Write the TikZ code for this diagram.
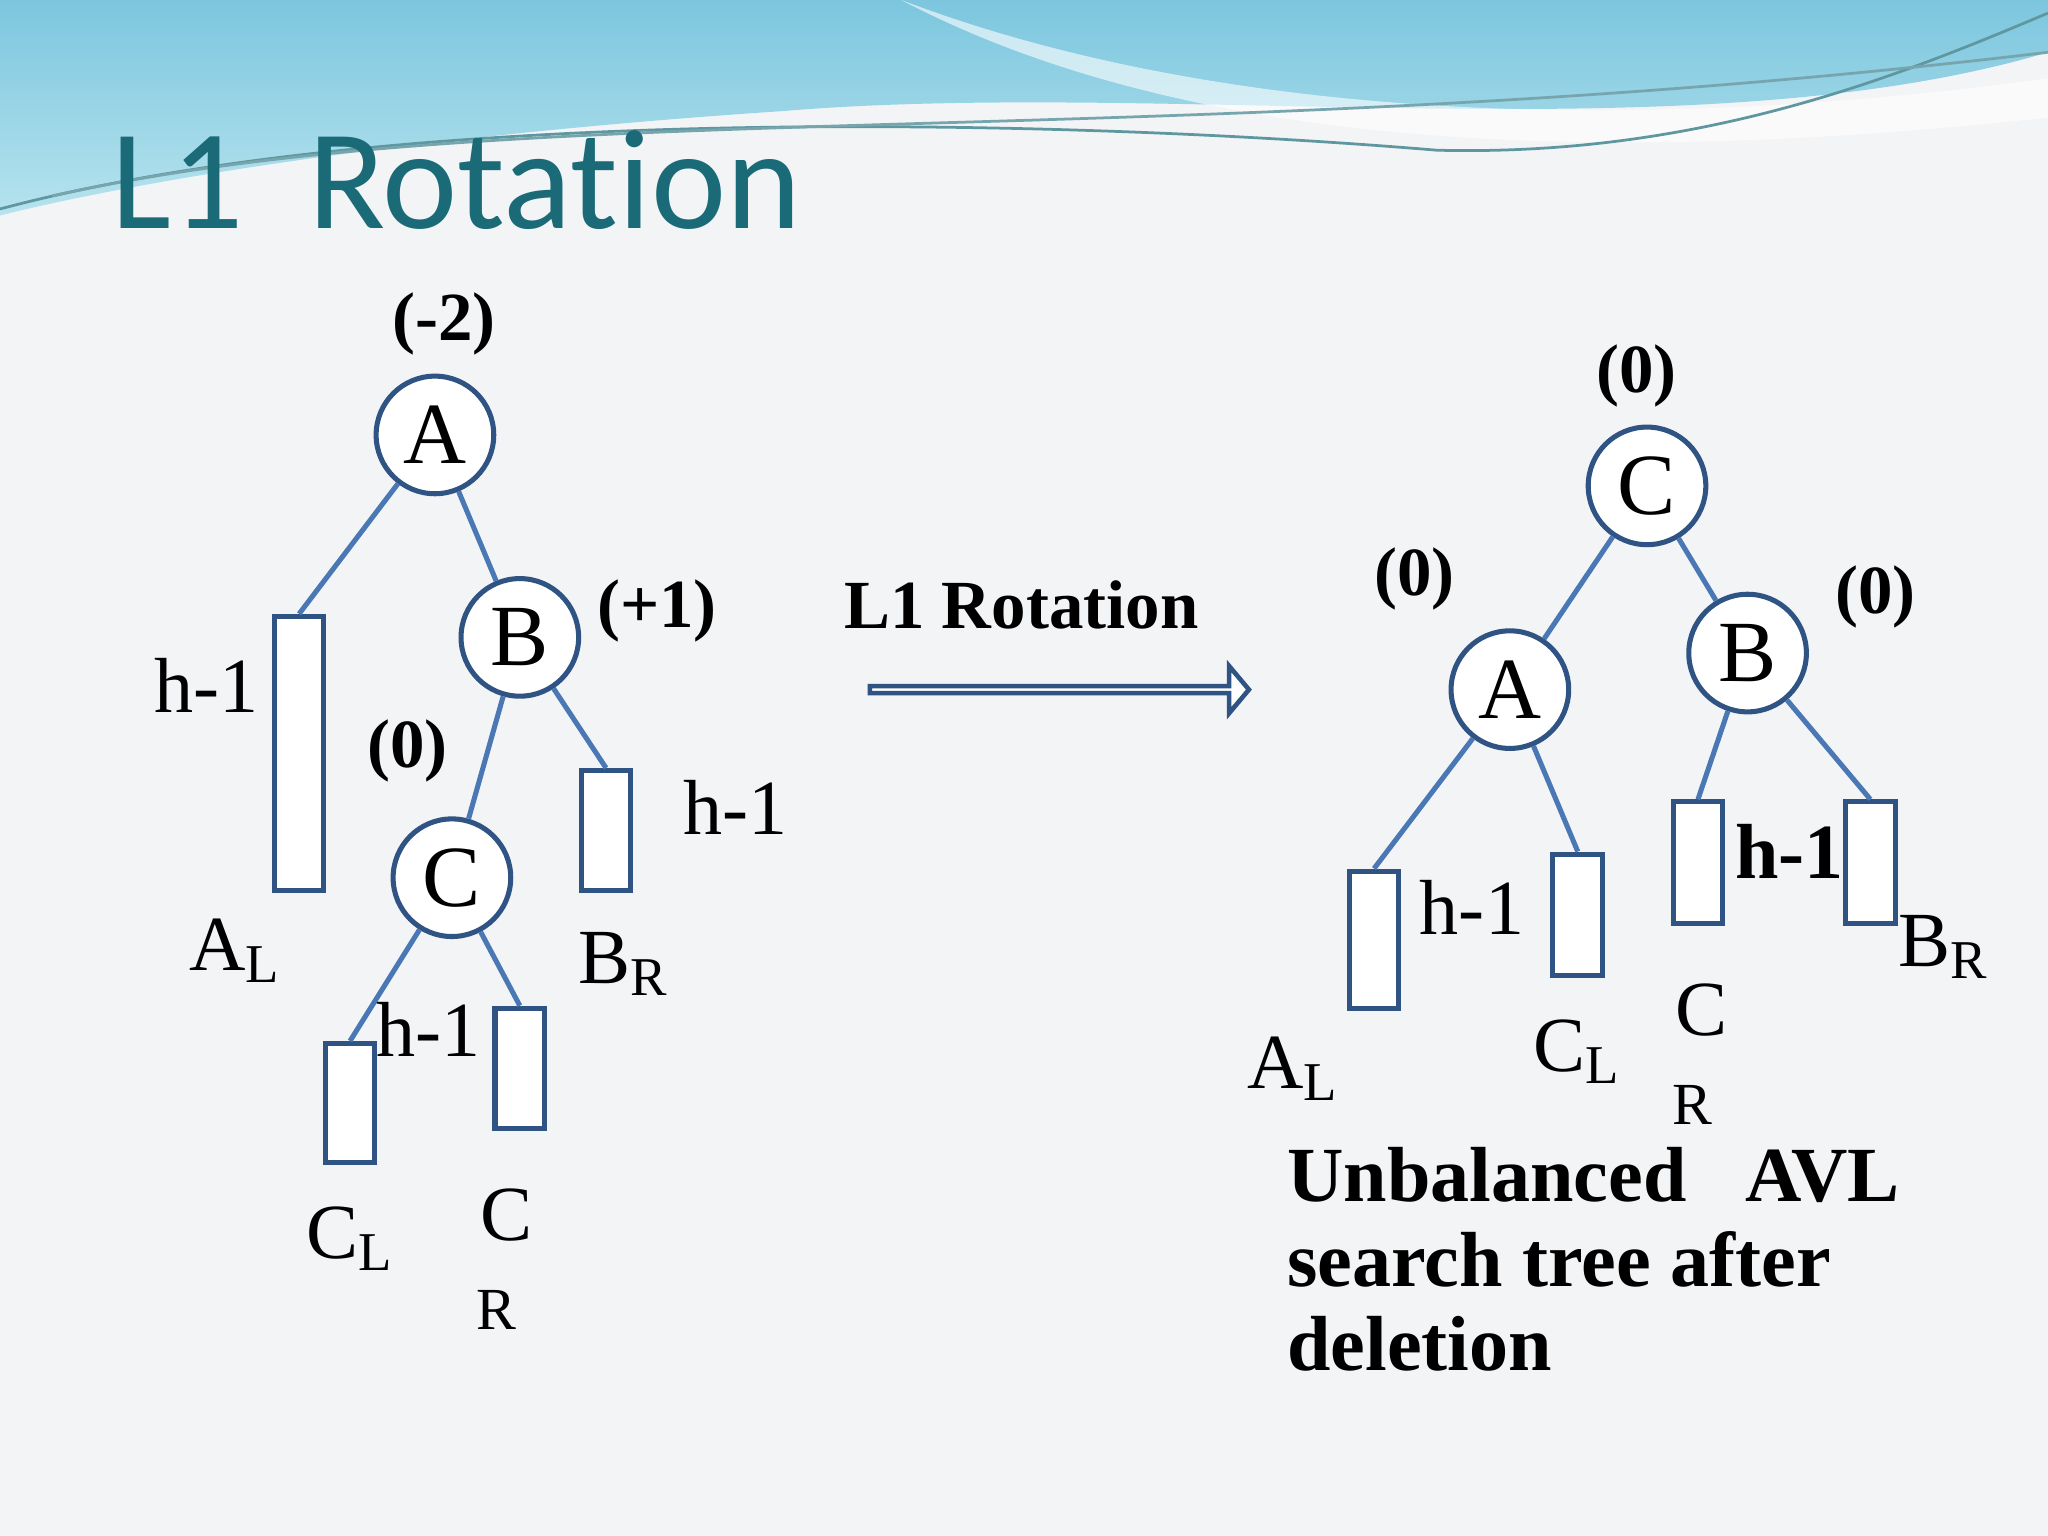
\documentclass[tikz,border=0pt]{standalone}
\usepackage{fontspec}
\setmainfont{Liberation Serif}
\newfontfamily\titlefont[Ligatures={NoCommon}]{Carlito}
\usetikzlibrary{shapes.arrows}
\definecolor{bg}{HTML}{F3F4F6}
\definecolor{nodeblue}{HTML}{2F5484}
\definecolor{linkblue}{HTML}{4A78B4}
\definecolor{titlecol}{HTML}{1A6A78}
\definecolor{wave1}{HTML}{7CC6DE}
\definecolor{wave2}{HTML}{B6E3EE}
\tikzset{
  tnode/.style={circle,draw=nodeblue,line width=1.1pt,fill=white,minimum size=0.9cm,inner sep=0pt,font=\fontsize{19}{19}\selectfont},
  sub/.style={draw=nodeblue,line width=1.1pt,fill=white,minimum width=0.38cm,anchor=north,inner sep=0pt},
  link/.style={draw=linkblue,line width=1.1pt},
  lbl/.style={font=\fontsize{17}{17}\selectfont,inner sep=0pt},
  bal/.style={font=\bfseries\fontsize{15}{15}\selectfont,inner sep=0pt},
}
\begin{document}
\begin{tikzpicture}[x=0.01cm,y=-0.01cm]
\fill[bg] (0,0) rectangle (1568,1176);
\useasboundingbox (0,0) rectangle (1568,1176);
% top waves
\shade[top color=wave1,bottom color=wave2] (0,0)--(1568,0)--(1568,40) .. controls (1300,120) and (900,60) .. (600,85) .. controls (300,105) and (100,140) .. (0,165)--cycle;
\fill[white,opacity=0.6] (690,0) .. controls (900,80) and (1200,110) .. (1568,60) -- (1568,90) .. controls (1200,130) and (900,110) .. (690,0);
\draw[titlecol!70,line width=0.6pt] (0,160) .. controls (300,80) and (800,90) .. (1100,115) .. controls (1300,120) and (1450,60) .. (1568,10);
\draw[titlecol!60,line width=0.6pt] (40,150) .. controls (400,70) and (900,120) .. (1568,40);
\node[anchor=base west,text=titlecol,font=\titlefont\fontsize{31}{31}\selectfont,inner sep=0pt] (title) at (85,175) {L1\ \ Rotation};
% left tree
\node[tnode] (A) at (333,333) {A};
\node[tnode] (B) at (398,488) {B};
\node[tnode] (C) at (346,672) {C};
\node[bal] at (340,248) {(-2)};
\node[bal] at (503,468) {(+1)};
\node[bal] at (312,575) {(0)};
\node[sub,minimum height=2.1cm] (AL) at (229,470) {};
\node[sub,minimum height=0.92cm] (BR) at (464,588) {};
\node[sub,minimum height=0.91cm] (CL) at (268,797) {};
\node[sub,minimum height=0.92cm] (CR) at (398,770) {};
\draw[link] (A) -- (AL.north);
\draw[link] (A) -- (B);
\draw[link] (B) -- (BR.north);
\draw[link] (B) -- (C);
\draw[link] (C) -- (CL.north);
\draw[link] (C) -- (CR.north);
\node[lbl] at (158,525) {h-1};
\node[lbl] at (563,618) {h-1};
\node[lbl] at (328,788) {h-1};
\node[lbl] at (180,728) {A\textsubscript{L}};
\node[lbl] at (478,738) {B\textsubscript{R}};
\node[lbl] at (268,948) {C\textsubscript{L}};
\node[lbl] at (388,930) {C};
\node[lbl,font=\fontsize{13}{13}\selectfont] at (380,1003) {R};
% arrow
\node[single arrow,draw=nodeblue,line width=1pt,fill=white,minimum height=2.9cm,minimum width=0.36cm,single arrow head extend=0.1cm,single arrow tip angle=100,inner sep=0pt] (arr) at (810,528) {};
\node[bal] at (782,463) {L1 Rotation};
% right tree
\node[tnode] (C2) at (1261,372) {C};
\node[tnode] (A2) at (1156,528) {A};
\node[tnode] (B2) at (1338,500) {B};
\node[bal] at (1253,288) {(0)};
\node[bal] at (1083,443) {(0)};
\node[bal] at (1436,457) {(0)};
\node[sub,minimum height=1.05cm] (AL2) at (1052,665) {};
\node[sub,minimum height=0.93cm] (CL2) at (1208,652) {};
\node[sub,minimum height=0.93cm] (CR2) at (1300,612) {};
\node[sub,minimum height=0.93cm] (BR2) at (1432,612) {};
\draw[link] (C2) -- (A2);
\draw[link] (C2) -- (B2);
\draw[link] (A2) -- (AL2.north);
\draw[link] (A2) -- (CL2.north);
\draw[link] (B2) -- (CR2.north);
\draw[link] (B2) -- (BR2.north);
\node[lbl] at (1127,695) {h-1};
\node[lbl,font=\bfseries\fontsize{17}{17}\selectfont] at (1370,652) {h-1};
\node[lbl] at (990,818) {A\textsubscript{L}};
\node[lbl] at (1208,805) {C\textsubscript{L}};
\node[lbl] at (1303,773) {C};
\node[lbl,font=\fontsize{13}{13}\selectfont] at (1296,846) {R};
\node[lbl] at (1488,725) {B\textsubscript{R}};
\node[anchor=north west,align=left,font=\bfseries\fontsize{17}{18.4}\selectfont,inner sep=0pt] (note) at (985,878) {Unbalanced\ \ \ AVL\\search tree after\\deletion};
\end{tikzpicture}
\end{document}
